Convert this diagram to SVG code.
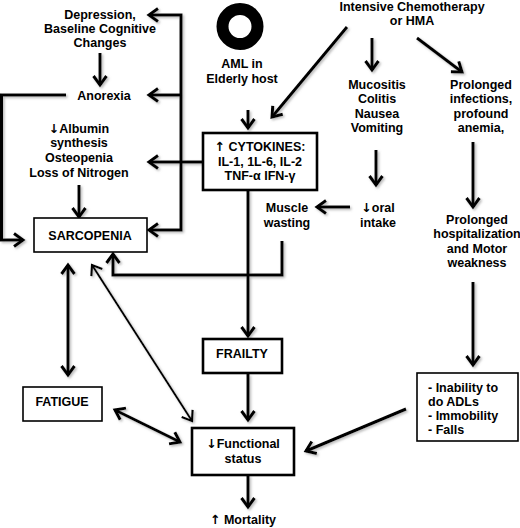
<svg xmlns="http://www.w3.org/2000/svg" width="520" height="528" viewBox="0 0 520 528">
<style>
text{font-family:"Liberation Sans",Arial,sans-serif;font-weight:bold;font-size:12.5px;fill:#000;text-anchor:middle}
.l{text-anchor:start}
.ar{font-family:"DejaVu Sans",sans-serif;font-weight:bold}
.box{fill:#fff;stroke:#000;stroke-width:1.6}
.boxb{fill:#fff;stroke:#000;stroke-width:2.6}
.c{fill:none;stroke:#000;stroke-width:3}
.t{fill:none;stroke:#000;stroke-width:2}
</style>
<defs>
<marker id="ah" markerUnits="userSpaceOnUse" markerWidth="16" markerHeight="18" refX="12" refY="8" orient="auto-start-reverse" viewBox="0 0 16 18">
<path d="M3,1.5 L12,8 L3,14.5" fill="none" stroke="#000" stroke-width="3"/>
</marker>
<marker id="at" markerUnits="userSpaceOnUse" markerWidth="16" markerHeight="18" refX="12" refY="8" orient="auto-start-reverse" viewBox="0 0 16 18">
<path d="M3,1.5 L12,8 L3,14.5" fill="none" stroke="#000" stroke-width="2.2"/>
</marker>
<filter id="sh" x="-10%" y="-10%" width="130%" height="130%">
<feDropShadow dx="1.5" dy="1.5" stdDeviation="1" flood-color="#888" flood-opacity="0.6"/>
</filter>
</defs>

<g id="connectors" filter="url(#sh)">
<line class="c" x1="347" y1="27" x2="272" y2="117" marker-end="url(#ah)"/>
<line class="c" x1="372" y1="38" x2="372" y2="70" marker-end="url(#ah)"/>
<line class="c" x1="417" y1="38" x2="462" y2="72" marker-end="url(#ah)"/>
<line class="c" x1="248" y1="110" x2="248" y2="128" marker-end="url(#ah)"/>
<line class="c" x1="376" y1="150" x2="376" y2="185" marker-end="url(#ah)"/>
<line class="c" x1="350" y1="207" x2="317" y2="207" marker-end="url(#ah)"/>
<path class="c" d="M282,241 V275 H113 V254" marker-end="url(#ah)"/>
<line class="c" x1="248" y1="190" x2="248" y2="336" marker-end="url(#ah)"/>
<line class="c" x1="248" y1="374" x2="248" y2="420" marker-end="url(#ah)"/>
<line class="c" x1="248" y1="475" x2="248" y2="507" marker-end="url(#ah)"/>
<line class="c" x1="473" y1="142" x2="473" y2="207" marker-end="url(#ah)"/>
<line class="c" x1="473" y1="282" x2="473" y2="365" marker-end="url(#ah)"/>
<line class="c" x1="406" y1="409" x2="306" y2="451" marker-end="url(#ah)"/>
<line class="c" x1="203" y1="162" x2="149" y2="162" marker-end="url(#ah)"/>
<path class="c" d="M149,15 H181 V230 H149" marker-start="url(#ah)" marker-end="url(#ah)"/>
<line class="c" x1="181" y1="95" x2="149" y2="95" marker-end="url(#ah)"/>
<line class="c" x1="100" y1="53" x2="100" y2="85" marker-end="url(#ah)"/>
<path class="c" d="M66,95 H1.5 V240 H23" marker-end="url(#ah)"/>
<line class="c" x1="79" y1="185" x2="79" y2="217" marker-end="url(#ah)"/>
<line class="c" x1="68" y1="265" x2="68" y2="375" marker-start="url(#ah)" marker-end="url(#ah)"/>
<line class="t" x1="92" y1="265" x2="192" y2="421" marker-start="url(#at)" marker-end="url(#at)"/>
<line class="c" x1="115" y1="410" x2="180" y2="442" marker-start="url(#ah)" marker-end="url(#ah)"/>
</g>

<g id="chemo">
<text x="412" y="11">Intensive Chemotherapy</text>
<text x="412" y="25">or HMA</text>
</g>
<g id="aml">
<circle cx="240" cy="26.5" r="17.5" fill="none" stroke="#000" stroke-width="12"/>
<text x="242" y="68">AML in</text>
<text x="242" y="83">Elderly host</text>
</g>
<g id="depression">
<text x="100" y="19">Depression,</text>
<text x="100" y="33">Baseline Cognitive</text>
<text x="100" y="47">Changes</text>
</g>
<g id="anorexia">
<text x="104" y="100">Anorexia</text>
</g>
<g id="albumin">
<text x="79" y="133"><tspan class="ar">↓</tspan>Albumin</text>
<text x="79" y="147">synthesis</text>
<text x="79" y="162">Osteopenia</text>
<text x="79" y="177">Loss of Nitrogen</text>
</g>
<g id="mucositis">
<text x="377" y="89">Mucositis</text>
<text x="377" y="103">Colitis</text>
<text x="377" y="118">Nausea</text>
<text x="377" y="132">Vomiting</text>
</g>
<g id="infections">
<text x="481" y="89">Prolonged</text>
<text x="481" y="103">infections,</text>
<text x="481" y="118">profound</text>
<text x="481" y="132">anemia,</text>
</g>
<g id="cytokines">
<rect class="boxb" x="203" y="133" width="114" height="57"/>
<text x="260" y="151"><tspan class="ar">↑</tspan> CYTOKINES:</text>
<text x="260" y="166">IL-1, 1L-6, IL-2</text>
<text x="260" y="180">TNF-α IFN-γ</text>
</g>
<g id="oral">
<text x="378" y="212"><tspan class="ar">↓</tspan>oral</text>
<text x="378" y="227">intake</text>
</g>
<g id="muscle">
<text x="287" y="212">Muscle</text>
<text x="287" y="227">wasting</text>
</g>
<g id="hospitalization">
<text x="477" y="224">Prolonged</text>
<text x="477" y="238">hospitalization</text>
<text x="477" y="253">and Motor</text>
<text x="477" y="267">weakness</text>
</g>
<g id="sarcopenia">
<rect class="box" x="34" y="218" width="113" height="34"/>
<text x="90" y="240">SARCOPENIA</text>
</g>
<g id="frailty">
<rect class="boxb" x="203" y="339" width="79" height="34"/>
<text x="242" y="358">FRAILTY</text>
</g>
<g id="fatigue">
<rect class="box" x="23" y="387" width="79" height="34"/>
<text x="62" y="406">FATIGUE</text>
</g>
<g id="inability">
<rect class="box" x="417" y="373" width="101" height="68"/>
<text class="l" x="428" y="392">- Inability to</text>
<text class="l" x="428" y="406">do ADLs</text>
<text class="l" x="428" y="420">- Immobility</text>
<text class="l" x="428" y="434">- Falls</text>
</g>
<g id="functional">
<rect class="boxb" x="192" y="428" width="102" height="47"/>
<text x="243" y="448"><tspan class="ar">↓</tspan>Functional</text>
<text x="243" y="463">status</text>
</g>
<g id="mortality">
<text x="243" y="524"><tspan class="ar">↑</tspan> Mortality</text>
</g>
</svg>
